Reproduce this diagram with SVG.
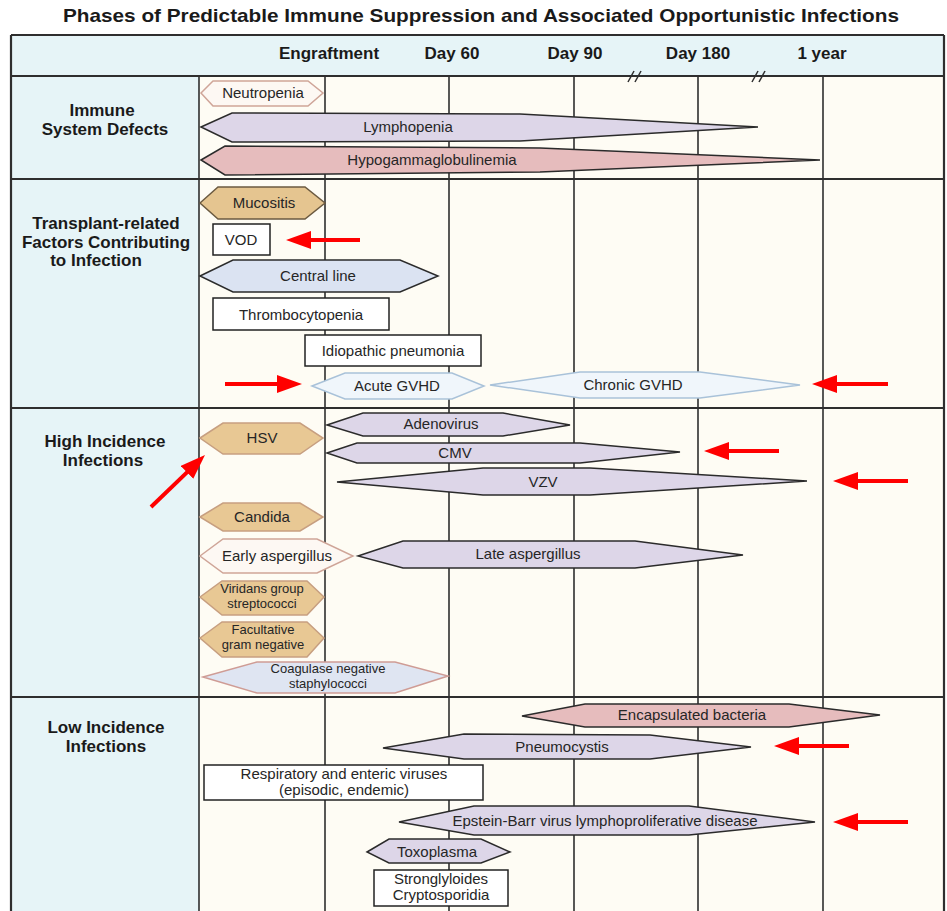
<svg xmlns="http://www.w3.org/2000/svg" width="947" height="911" viewBox="0 0 947 911">
<defs>
<style>
.title{font-family:"Liberation Sans",Arial,sans-serif;font-weight:bold;font-size:19px;fill:#1a1a1a}
.hdr{font-family:"Liberation Sans",Arial,sans-serif;font-weight:bold;font-size:17px;fill:#1a1a1a;text-anchor:middle}
.sec{font-family:"Liberation Sans",Arial,sans-serif;font-weight:bold;font-size:17px;fill:#1a1a1a;text-anchor:middle}
.t{font-family:"Liberation Sans",Arial,sans-serif;font-size:15px;fill:#262626;text-anchor:middle}
.ts{font-family:"Liberation Sans",Arial,sans-serif;font-size:13px;fill:#262626;text-anchor:middle}
.grid{stroke:#2e2e2e;stroke-width:1.6;fill:none}
.row{stroke:#2e2e2e;stroke-width:2.2;fill:none}
.lav{fill:#ddd6e8;stroke:#2b2b2b;stroke-width:1.5}
.pink{fill:#e6bcbd;stroke:#2b2b2b;stroke-width:1.5}
.blue{fill:#dbe3f2;stroke:#2b2b2b;stroke-width:1.5}
.tan{fill:#e8c894;stroke:#c79f80;stroke-width:1.5}
.tand{fill:#e5c590;stroke:#6b5a40;stroke-width:1.5}
.wr{fill:#fdf8f3;stroke:#cfa598;stroke-width:1.5}
.gv{fill:#f0f6fb;stroke:#a9c2d9;stroke-width:1.5}
.cns{fill:#dfe5f2;stroke:#cf9c95;stroke-width:1.5}
.box{fill:#ffffff;stroke:#222;stroke-width:1.5}
.red{stroke:#ff0000;stroke-width:4;fill:none}
</style>
<marker id="ah" markerUnits="userSpaceOnUse" markerWidth="25" markerHeight="18" viewBox="0 0 25 18" refX="5" refY="9" orient="auto">
<path d="M0,0 L25,9 L0,18 z" fill="#ff0000"/>
</marker>
</defs>
<rect x="0" y="0" width="947" height="911" fill="#ffffff"/>
<text class="title" x="63" y="22" textLength="836" lengthAdjust="spacingAndGlyphs">Phases of Predictable Immune Suppression and Associated Opportunistic Infections</text>

<g id="table">
<rect x="11" y="35" width="933" height="41" fill="#e6f4f7"/>
<rect x="11" y="76" width="188" height="835" fill="#e6f4f7"/>
<rect x="199" y="76" width="745" height="835" fill="#fefcf4"/>
<line class="grid" x1="199" y1="76" x2="199" y2="911"/>
<line class="grid" x1="325" y1="76" x2="325" y2="911"/>
<line class="grid" x1="449" y1="76" x2="449" y2="911"/>
<line class="grid" x1="574" y1="76" x2="574" y2="911"/>
<line class="grid" x1="698" y1="76" x2="698" y2="911"/>
<line class="grid" x1="823" y1="76" x2="823" y2="911"/>
<line class="row" x1="11" y1="35" x2="944" y2="35"/>
<line class="row" x1="11" y1="35" x2="11" y2="911"/>
<line class="row" x1="944" y1="35" x2="944" y2="911"/>
<line class="row" x1="11" y1="76" x2="944" y2="76"/>
<line class="row" x1="11" y1="179" x2="944" y2="179"/>
<line class="row" x1="11" y1="408" x2="944" y2="408"/>
<line class="row" x1="11" y1="697" x2="944" y2="697"/>
<g stroke="#2e2e2e" stroke-width="1.5">
<line x1="628" y1="82" x2="634" y2="71"/><line x1="635" y1="82" x2="641" y2="71"/>
<line x1="752" y1="82" x2="758" y2="71"/><line x1="759" y1="82" x2="765" y2="71"/>
</g>
<text class="hdr" x="329" y="59">Engraftment</text>
<text class="hdr" x="452" y="59">Day 60</text>
<text class="hdr" x="575" y="59">Day 90</text>
<text class="hdr" x="698" y="59">Day 180</text>
<text class="hdr" x="822" y="59">1 year</text>
<text class="sec" x="102" y="116">Immune</text>
<text class="sec" x="105" y="135">System Defects</text>
<text class="sec" x="106" y="229">Transplant-related</text>
<text class="sec" x="106" y="248">Factors Contributing</text>
<text class="sec" x="96" y="266">to Infection</text>
<text class="sec" x="105" y="447">High Incidence</text>
<text class="sec" x="103" y="466">Infections</text>
<text class="sec" x="106" y="733">Low Incidence</text>
<text class="sec" x="106" y="752">Infections</text>
</g>

<g id="neutropenia"><polygon class="wr" points="201,93 213,81 308,81 323,93 308,106 213,106"/><text class="t" x="263" y="98">Neutropenia</text></g>
<g id="lymphopenia"><polygon class="lav" points="201,127 232,113 520,114 758,127 520,141 232,142"/><text class="t" x="408" y="132">Lymphopenia</text></g>
<g id="hypogammaglobulinemia"><polygon class="pink" points="201,160 225,146 540,148 820,160 540,172 225,175"/><text class="t" x="432" y="165">Hypogammaglobulinemia</text></g>

<g id="mucositis"><polygon class="tand" points="200,203 218,187 305,187 325,203 305,219 218,219"/><text class="t" x="264" y="208">Mucositis</text></g>
<g id="vod"><rect class="box" x="213" y="224" width="57" height="31"/><text class="t" x="241" y="245">VOD</text></g>
<g id="central-line"><polygon class="blue" points="200,276 233,260 400,260 438,276 400,292 233,292"/><text class="t" x="318" y="281">Central line</text></g>
<g id="thrombocytopenia"><rect class="box" x="213" y="298" width="176" height="32"/><text class="t" x="301" y="320">Thrombocytopenia</text></g>
<g id="idiopathic-pneumonia"><rect class="box" x="305" y="335" width="176" height="31"/><text class="t" x="393" y="356">Idiopathic pneumonia</text></g>
<g id="acute-gvhd"><polygon class="gv" points="312,386 345,373 452,373 484,386 452,399 345,399"/><text class="t" x="397" y="391">Acute GVHD</text></g>
<g id="chronic-gvhd"><polygon class="gv" points="490,385 580,372 700,372 800,385 700,398 580,398"/><text class="t" x="633" y="390">Chronic GVHD</text></g>

<g id="adenovirus"><polygon class="lav" points="327,425 363,413 503,413 570,425 503,436 363,436"/><text class="t" x="441" y="429">Adenovirus</text></g>
<g id="hsv"><polygon class="tan" points="200,438 223,423 300,423 323,438 300,454 223,454"/><text class="t" x="262" y="443">HSV</text></g>
<g id="cmv"><polygon class="lav" points="327,453 357,443 580,443 680,452 580,463 357,463"/><text class="t" x="455" y="458">CMV</text></g>
<g id="vzv"><polygon class="lav" points="337,482 483,468 590,468 807,481 590,495 483,495"/><text class="t" x="543" y="487">VZV</text></g>
<g id="candida"><polygon class="tan" points="200,517 223,503 300,503 323,517 300,531 223,531"/><text class="t" x="262" y="522">Candida</text></g>
<g id="early-aspergillus"><polygon class="wr" points="200,556 223,539 317,539 353,556 317,573 223,573"/><text class="t" x="277" y="561">Early aspergillus</text></g>
<g id="late-aspergillus"><polygon class="lav" points="358,556 403,541 635,541 743,555 635,568 403,568"/><text class="t" x="528" y="559">Late aspergillus</text></g>
<g id="viridans"><polygon class="tan" points="200,597 222,581 307,581 324,597 307,615 222,615"/><text class="ts" x="262" y="593">Viridans group</text><text class="ts" x="262" y="608">streptococci</text></g>
<g id="facultative"><polygon class="tan" points="200,638 222,622 307,622 324,638 307,657 222,657"/><text class="ts" x="263" y="634">Facultative</text><text class="ts" x="263" y="649">gram negative</text></g>
<g id="coagulase"><polygon class="cns" points="203,677 257,662 395,662 448,676 395,693 257,693"/><text class="ts" x="328" y="673">Coagulase negative</text><text class="ts" x="328" y="688">staphylococci</text></g>

<g id="encapsulated-bacteria"><polygon class="pink" points="522,716 585,704 789,704 880,715 789,727 585,727"/><text class="t" x="692" y="720">Encapsulated bacteria</text></g>
<g id="pneumocystis"><polygon class="lav" points="383,748 464,734 650,735 751,747 650,759 464,759"/><text class="t" x="562" y="752">Pneumocystis</text></g>
<g id="respiratory"><rect class="box" x="204" y="765" width="279" height="35"/><text class="t" x="344" y="779">Respiratory and enteric viruses</text><text class="t" x="344" y="795">(episodic, endemic)</text></g>
<g id="ebv"><polygon class="lav" points="399,822 474,806 689,806 815,822 689,835 474,835"/><text class="t" x="605" y="826">Epstein-Barr virus lymphoproliferative disease</text></g>
<g id="toxoplasma"><polygon class="lav" points="367,852 389,839 481,839 510,852 481,863 389,863"/><text class="t" x="437" y="857">Toxoplasma</text></g>
<g id="strongyloides"><rect class="box" x="374" y="870" width="134" height="36"/><text class="t" x="441" y="884">Stronglyloides</text><text class="t" x="441" y="900">Cryptosporidia</text></g>

<g id="connectors">
<line class="red" x1="360" y1="240" x2="306" y2="240" marker-end="url(#ah)"/>
<line class="red" x1="225" y1="384" x2="282" y2="384" marker-end="url(#ah)"/>
<line class="red" x1="888" y1="384" x2="832" y2="384" marker-end="url(#ah)"/>
<line class="red" x1="151" y1="507" x2="190.6" y2="468.9" marker-end="url(#ah)"/>
<line class="red" x1="779" y1="451" x2="724" y2="451" marker-end="url(#ah)"/>
<line class="red" x1="908" y1="481" x2="853" y2="481" marker-end="url(#ah)"/>
<line class="red" x1="849" y1="746" x2="794" y2="746" marker-end="url(#ah)"/>
<line class="red" x1="908" y1="822" x2="853" y2="822" marker-end="url(#ah)"/>
</g>
</svg>
